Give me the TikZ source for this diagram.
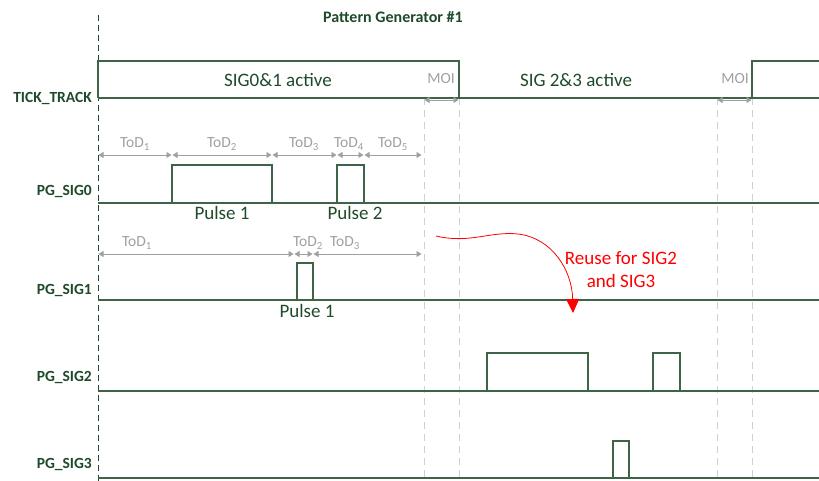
\documentclass[tikz,border=0pt]{standalone}
\usepackage{fontspec}
\setmainfont{Carlito}
\usetikzlibrary{positioning,arrows.meta}
\definecolor{sigline}{RGB}{62,100,72}
\definecolor{sigtext}{RGB}{30,74,42}
\definecolor{todgray}{RGB}{160,160,160}
\definecolor{gridgray}{RGB}{208,208,208}
\definecolor{reusered}{RGB}{255,0,0}

\begin{document}
\begin{tikzpicture}[x=1pt,y=-1pt,
          wave/.style={sigline,line width=1.2pt},
          signame/.style={font=\fontsize{15.5}{17}\selectfont\bfseries,
            text=sigtext,anchor=base east,inner sep=0pt},
          todarrow/.style={todgray,line width=0.9pt,
            {Triangle[length=5pt,width=6pt]}-{Triangle[length=5pt,width=6pt]},
            shorten <=0.5pt,shorten >=0.5pt},
          todlabel/.style={font=\fontsize{15.5}{17}\selectfont,text=todgray,
            inner sep=0pt},
          bigtext/.style={font=\fontsize{19}{22}\selectfont,text=sigtext,
            inner sep=0pt},
          moiline/.style={gridgray,line width=0.8pt,dash pattern=on 7pt off 5pt}]

        \useasboundingbox (0,0) rectangle (819,481);

        % time axis start and title
        \draw[sigtext,line width=0.8pt,dash pattern=on 6pt off 4pt]
          (98,15) -- (98,481);
        \node[font=\fontsize{16}{18}\selectfont\bfseries,text=sigtext]
          (title) at (393,17) {Pattern Generator \#1};

        % MOI guide lines
        \coordinate (m1) at (424,98);
        \coordinate (m2) at (459,98);
        \coordinate (m3) at (717,98);
        \coordinate (m4) at (752,98);
        \draw[moiline] (m1) -- (424,481);
        \draw[moiline] (m2) -- (459,481);
        \draw[moiline] (m3) -- (717,481);
        \draw[moiline] (m4) -- (752,481);

        % TICK_TRACK
        \node[signame] (tick) at (92,103) {TICK\_TRACK};
        \draw[wave] (98,98) -- (98,61) -- (459,61) -- (459,98);
        \draw[wave] (98,98) -- (819,98);
        \draw[wave] (752,98) -- (752,61) -- (819,61);
        \node[bigtext] (act01) at (278,80) {SIG0\&1 active};
        \node[bigtext] (act23) at (576,80) {SIG 2\&3 active};
        \draw[todarrow] ([yshift=-2pt]m1) -- ([yshift=-2pt]m2);
        \draw[todarrow] ([yshift=-2pt]m3) -- ([yshift=-2pt]m4);
        \node[todlabel] (moi1) at (441,79) {MOI};
        \node[todlabel] (moi2) at (735,79) {MOI};

        % PG_SIG0
        \node[signame] (sig0) at (92,196) {PG\_SIG0};
        \draw[wave] (98,203) -- (819,203);
        \draw[wave] (172,203) -- (172,165) -- (272,165) -- (272,203);
        \draw[wave] (337,203) -- (337,165) -- (364,165) -- (364,203);
        \node[bigtext] (p01) at (222,213) {Pulse 1};
        \node[bigtext] (p02) at (355,213) {Pulse 2};
        \coordinate (a0) at (98,155);
        \coordinate (a1) at (172,155);
        \coordinate (a2) at (272,155);
        \coordinate (a3) at (337,155);
        \coordinate (a4) at (364,155);
        \coordinate (a5) at (422,155);
        \draw[todarrow] (a0) -- (a1);
        \draw[todarrow] (a1) -- (a2);
        \draw[todarrow] (a2) -- (a3);
        \draw[todarrow] (a3) -- (a4);
        \draw[todarrow] (a4) -- (a5);
        \node[todlabel] (t01) at (135,144) {ToD\textsubscript{1}};
        \node[todlabel] (t02) at (222,144) {ToD\textsubscript{2}};
        \node[todlabel] (t03) at (304,144) {ToD\textsubscript{3}};
        \node[todlabel] (t04) at (349,144) {ToD\textsubscript{4}};
        \node[todlabel] (t05) at (393,144) {ToD\textsubscript{5}};

        % PG_SIG1
        \node[signame] (sig1) at (92,294) {PG\_SIG1};
        \draw[wave] (98,300) -- (819,300);
        \draw[wave] (297,300) -- (297,263) -- (313,263) -- (313,300);
        \node[bigtext] (p11) at (307,311) {Pulse 1};
        \coordinate (b0) at (98,254);
        \coordinate (b1) at (294,254);
        \coordinate (b2) at (313,254);
        \coordinate (b3) at (422,254);
        \draw[todarrow] (b0) -- (b1);
        \draw[todarrow] (b1) -- (b2);
        \draw[todarrow] (b2) -- (b3);
        \node[todlabel] (t11) at (137,243) {ToD\textsubscript{1}};
        \node[todlabel] (t12) at (308,243) {ToD\textsubscript{2}};
        \node[todlabel] (t13) at (345,243) {ToD\textsubscript{3}};

        % reuse note
        \coordinate (r0) at (436,236);
        \coordinate (r1) at (573,313);
        \draw[reusered,line width=0.8pt,-{Triangle[length=14pt,width=13pt]}]
          (r0) .. controls (470,244) and (490,231) .. (518,234)
          .. controls (552,238) and (572,270) .. (r1);
        \node[font=\fontsize{19}{23}\selectfont,text=reusered,align=center,
          inner sep=0pt] (reuse) at (621,270) {Reuse for SIG2\\and SIG3};

        % PG_SIG2
        \node[signame] (sig2) at (92,381) {PG\_SIG2};
        \draw[wave] (98,391) -- (819,391);
        \draw[wave] (487,391) -- (487,353) -- (588,353) -- (588,391);
        \draw[wave] (653,391) -- (653,353) -- (680,353) -- (680,391);

        % PG_SIG3
        \node[signame] (sig3) at (92,468) {PG\_SIG3};
        \draw[wave] (98,478) -- (819,478);
        \draw[wave] (613,478) -- (613,441) -- (629,441) -- (629,478);

      \end{tikzpicture}
\end{document}
